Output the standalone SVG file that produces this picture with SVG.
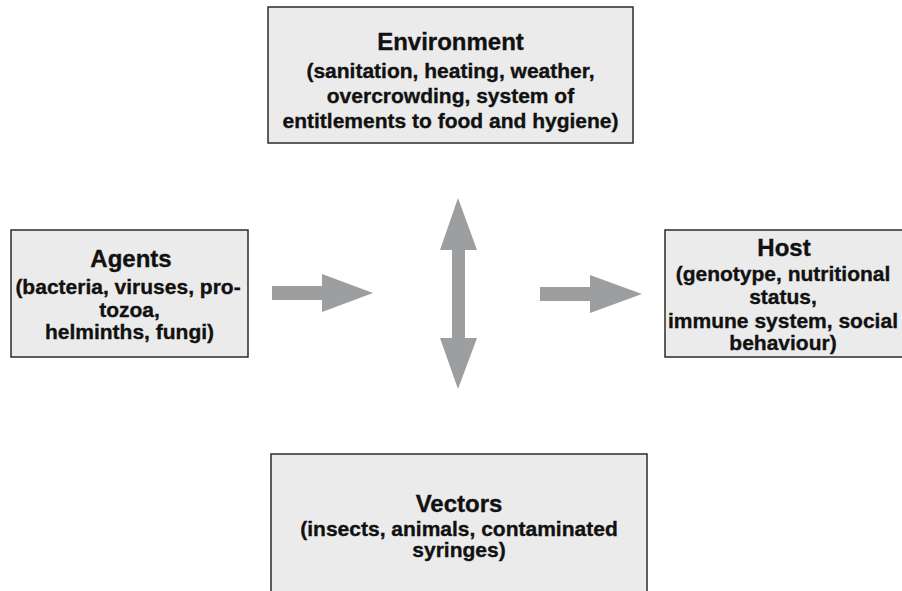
<svg xmlns="http://www.w3.org/2000/svg" width="902" height="591" viewBox="0 0 902 591">
<style>
.box{fill:#ebebeb;stroke:#2b2b2b;stroke-width:1.5}
.t{font-family:"Liberation Sans",Arial,sans-serif;font-weight:bold;fill:#111;stroke:#111;stroke-width:0.35;text-anchor:middle}
.h{font-size:24px}
.s{font-size:21px}
.arr{fill:#9d9ea0}
</style>
<rect width="902" height="591" fill="#ffffff"/>
<g id="environment">
<rect class="box" x="268" y="7" width="365" height="136"/>
<text class="t h" x="450.5" y="50">Environment</text>
<text class="t s" x="450.5" y="78">(sanitation, heating, weather,</text>
<text class="t s" x="450.5" y="103">overcrowding, system of</text>
<text class="t s" x="450.5" y="128">entitlements to food and hygiene)</text>
</g>
<g id="agents">
<rect class="box" x="11" y="230" width="237" height="127"/>
<text class="t h" x="131" y="267">Agents</text>
<text class="t s" x="128" y="294">(bacteria, viruses, pro-</text>
<text class="t s" x="129.5" y="316.5">tozoa,</text>
<text class="t s" x="129.5" y="339">helminths, fungi)</text>
</g>
<g id="host">
<rect class="box" x="665" y="230" width="245" height="127"/>
<text class="t h" x="784" y="256">Host</text>
<text class="t s" x="783" y="280.5">(genotype, nutritional</text>
<text class="t s" x="783" y="304">status,</text>
<text class="t s" x="783" y="327.5">immune system, social</text>
<text class="t s" x="783" y="350">behaviour)</text>
</g>
<g id="vectors">
<rect class="box" x="271" y="454" width="376" height="145"/>
<text class="t h" x="459" y="512">Vectors</text>
<text class="t s" x="459" y="535.5">(insects, animals, contaminated</text>
<text class="t s" x="459" y="556.5">syringes)</text>
</g>
<g id="connectors">
<polygon class="arr" points="272,286 322,286 322,274 373,293 322,312 322,300 272,300"/>
<polygon class="arr" points="540,287 590,287 590,275 642,294 590,313 590,301 540,301"/>
<polygon class="arr" points="458,198 477,250 465,250 465,338 477,338 458,389 440,338 452,338 452,250 440,250"/>
</g>
</svg>
